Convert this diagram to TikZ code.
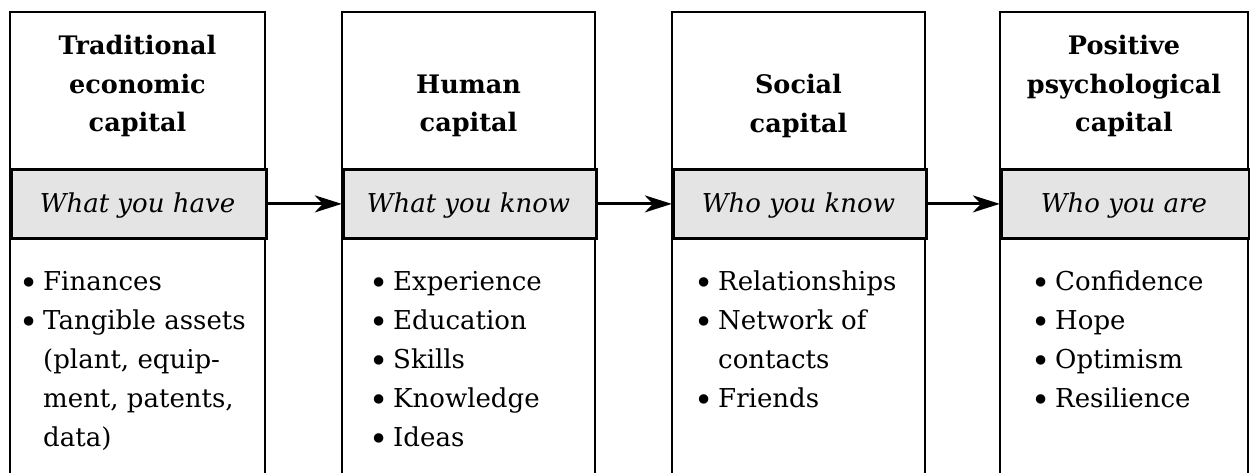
\documentclass[tikz,border=0pt]{standalone}
\usepackage{fontspec}
\usepackage{graphicx}
\setmainfont{DejaVu Serif}
\usetikzlibrary{arrows.meta}
\definecolor{bandgrey}{HTML}{E4E4E4}
\begin{document}
\begin{tikzpicture}[x=1pt,y=-1pt,
  frame/.style={draw=black, line width=2.8pt},
  bandbox/.style={draw=black, line width=2.8pt, fill=bandgrey},
  ttl/.style={font=\bfseries\fontsize{25.5}{38.5}\selectfont, align=center, anchor=center, inner sep=0pt},
  bandtxt/.style={font=\itshape\fontsize{26}{30}\selectfont, anchor=base, inner sep=0pt},
  items/.style={font=\fontsize{26}{39}\selectfont, anchor=base west, inner sep=0pt},
  flow/.style={line width=2.8pt, -{Stealth[length=27pt,width=17pt,inset=8pt]}, shorten >=0.2pt}
]
\clip (0,0) rectangle (1250,473);
\fill[white] (0,0) rectangle (1250,473);

% column frames
\foreach \l/\r/\n in {10/265/1, 342/595/2, 672/925/3, 1000/1248/4}{
  \draw[frame] (\l,480) -- (\l,12) -- (\r,12) -- (\r,480);
  \node[bandbox, minimum width=\r pt-\l pt, minimum height=69pt, inner sep=0pt, anchor=north west] (b\n) at (\l,168) {};
}

% titles
\node[ttl] (t1) at (137.5,86) {Traditional\\economic\\capital};
\node[ttl] (t2) at (468.5,106) {Human\\capital};
\node[ttl] (t3) at (798.5,106) {Social\\capital};
\node[ttl] (t4) at (1124,86) {Positive\\psychological\\capital};

% band texts
\node[bandtxt] (w1) at (137.5,212) {What you have};
\node[bandtxt] (w2) at (468.5,212) {What you know};
\node[bandtxt] (w3) at (798.5,212) {Who you know};
\node[bandtxt] (w4) at (1124,212) {Who you are};

% items
\newcommand{\bul}{\makebox[24pt][l]{\raisebox{-4.5pt}{\scalebox{1.25}{•}}}}
\newcommand{\ind}{\hspace*{24pt}}
\node[items] (i1) at (19,290) {\begin{tabular}[t]{@{}l@{}}
\bul Finances\\ \bul Tangible assets\\ \ind(plant, equip-\\ \ind ment, patents,\\ \ind data)\end{tabular}};
\node[items] (i2) at (369,290) {\begin{tabular}[t]{@{}l@{}}
\bul Experience\\ \bul Education\\ \bul Skills\\ \bul Knowledge\\ \bul Ideas\end{tabular}};
\node[items] (i3) at (694,290) {\begin{tabular}[t]{@{}l@{}}
\bul Relationships\\ \bul Network of\\ \ind contacts\\ \bul Friends\end{tabular}};
\node[items] (i4) at (1031,290) {\begin{tabular}[t]{@{}l@{}}
\bul Confidence\\ \bul Hope\\ \bul Optimism\\ \bul Resilience\end{tabular}};

% arrows
\draw[flow] (b1.east) -- (b2.west);
\draw[flow] (b2.east) -- (b3.west);
\draw[flow] (b3.east) -- (b4.west);
\end{tikzpicture}
\end{document}
